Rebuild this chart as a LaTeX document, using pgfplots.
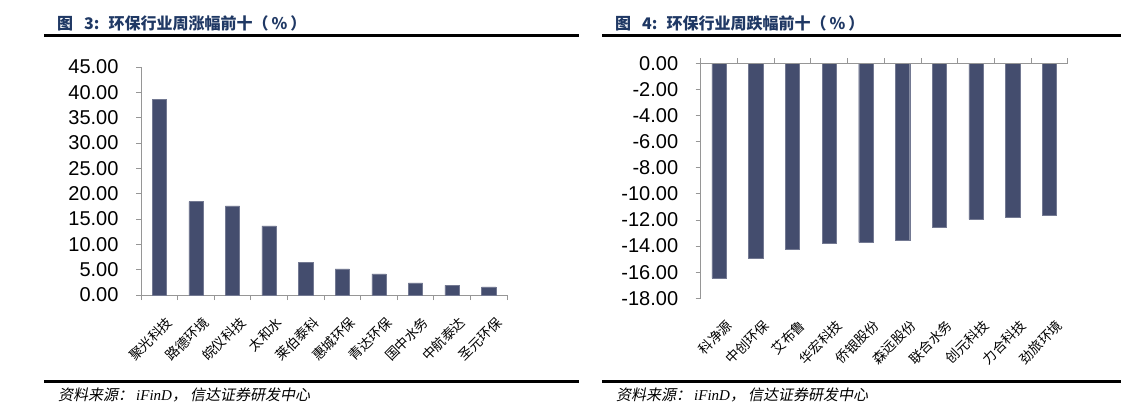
\documentclass[border=0pt]{standalone}
\usepackage{pgfplots}
\pgfplotsset{compat=1.18}
\usepackage{fontspec}
\setmainfont{Liberation Sans}
\newfontfamily\cjk{Noto Sans CJK SC}
\newfontfamily\cjkslant{Noto Sans CJK SC}[FakeSlant=0.2]
\newfontfamily\serifit{Liberation Serif}
\definecolor{barc}{RGB}{68,77,110}
\definecolor{axisgray}{RGB}{150,150,150}
\definecolor{titleblue}{RGB}{31,56,100}
\pgfplotsset{
  mystyle/.style={
    scale only axis, anchor=south west,
    xmin=-0.5, xmax=9.5,
    xtick={0,...,9},
    major x tick style={draw=none},
    major tick length=5pt, minor tick length=5pt,
    tick align=outside,
    tick style={axisgray, line width=0.8pt},
    axis line style={axisgray, line width=0.8pt},
    yticklabel style={font=\fontsize{20}{20}\selectfont, xshift=-14pt},
    /pgf/number format/assume math mode=true,
    /pgf/number format/.cd, fixed, fixed zerofill, precision=2, /pgfplots/.cd,
    xticklabel style={font=\cjk\fontsize{13.5}{13.5}\selectfont, rotate=45, anchor=north east, inner sep=1pt, xshift=-5.5pt, yshift=-14pt},
    clip=false,
  }
}
\newcommand\titlefont{\cjk\bfseries\fontsize{16}{16}\selectfont}
\newcommand\footer{{\cjkslant 资料来源：}\hspace{3pt}{\serifit\itshape iFinD}{\cjkslant ，}\hspace{3pt}{\cjkslant 信达证券研发中心}}
\begin{document}
\begin{tikzpicture}
\useasboundingbox (0pt,0pt) rectangle (1137pt,412pt);
% titles
\node[anchor=west, text=titleblue, font=\titlefont, inner sep=0pt] at (57pt,388.5pt) {图\hspace{11pt}3:\hspace{9pt}环保行业周涨幅前十（\hspace{3pt}\%\hspace{3pt}）};
\node[anchor=west, text=titleblue, font=\titlefont, inner sep=0pt] at (615pt,388.5pt) {图\hspace{11pt}4:\hspace{9pt}环保行业周跌幅前十（\hspace{3pt}\%\hspace{3pt}）};
\draw[line width=2.5pt] (44pt,376.5pt) -- (579pt,376.5pt);
\draw[line width=2.5pt] (602pt,376.5pt) -- (1121pt,376.5pt);
\draw[line width=2.5pt] (44pt,30.5pt) -- (579pt,30.5pt);
\draw[line width=2.5pt] (602pt,30.5pt) -- (1121pt,30.5pt);
\node[anchor=west, inner sep=0pt, font=\fontsize{15}{15}\selectfont] at (58pt,17pt) {\footer};
\node[anchor=west, inner sep=0pt, font=\fontsize{15}{15}\selectfont] at (616pt,17pt) {\footer};
% left chart
\begin{axis}[mystyle, at={(141pt,117pt)}, width=366pt, height=228pt,
  axis lines*=left,
  minor xtick={-0.5,0.5,...,9.5},
  ymin=0, ymax=45, ytick={0,5,...,45},
  xticklabels={聚光科技,路德环境,皖仪科技,太和水,莱伯泰科,惠城环保,青达环保,国中水务,中航泰达,圣元环保},
]
\addplot[ybar, bar width=14.3pt, fill=barc, draw=barc!75!white] coordinates {
(0,38.67) (1,18.45) (2,17.59) (3,13.64) (4,6.39) (5,5.14) (6,4.15) (7,2.37) (8,1.91) (9,1.58)};
\end{axis}
% right chart
\begin{axis}[mystyle, at={(700.7pt,113.7pt)}, width=367pt, height=235pt,
  axis y line*=left, axis x line*=bottom, x axis line style={draw=none},
  ymin=-18, ymax=0, ytick={-18,-16,...,0},
  xticklabels={科净源,中创环保,艾布鲁,华宏科技,侨银股份,森远股份,联合水务,创元科技,力合科技,劲旅环境},
]
\addplot[ybar, bar width=14.3pt, fill=barc, draw=barc!75!white] coordinates {
(0,-16.47) (1,-14.96) (2,-14.27) (3,-13.79) (4,-13.71) (5,-13.53) (6,-12.56) (7,-11.95) (8,-11.82) (9,-11.62)};
\draw[axisgray, line width=0.8pt] (axis cs:-0.5,0) -- (axis cs:9.5,0);
\pgfplotsinvokeforeach{-0.5,0.5,...,9.5}{\draw[axisgray, line width=0.8pt] (axis cs:#1,0) -- ++(0pt,5pt);}
\end{axis}
\end{tikzpicture}
\end{document}
